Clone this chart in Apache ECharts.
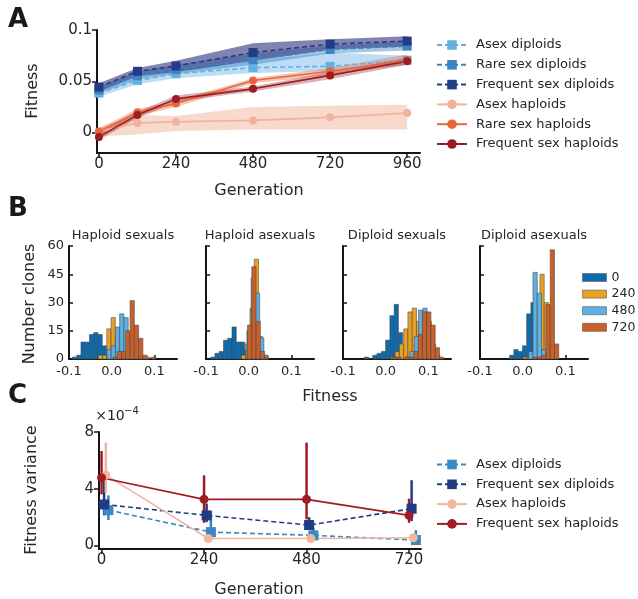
<!DOCTYPE html>
<html>
<head>
<meta charset="utf-8">
<script src="https://cdn.jsdelivr.net/npm/echarts@6/dist/echarts.min.js"></script>
<style>
  body { margin: 0; background: #fff; }
  .layer { position: absolute; left: 0; top: 0; width: 638px; height: 599px; }
</style>
</head>
<body>
<div id="chartA" class="layer"></div>
<div id="chartB" class="layer"></div>
<div id="chartC" class="layer"></div>
<script>
// ---------- panel A : mean fitness over time ----------
const gensA = [0, 120, 240, 480, 720, 960];
const genTicksA = [0, 240, 480, 720, 960];
const fitTicksA = [0, 0.05, 0.1];

const asexDip = [0.0384, 0.0508, 0.0574, 0.0633, 0.0646, 0.0705];
const asexDipLo = [0.035, 0.047, 0.053, 0.058, 0.060, 0.066];
const asexDipHi = [0.042, 0.054, 0.062, 0.070, 0.078, 0.075];
const rareDip = [0.0416, 0.0554, 0.0613, 0.0711, 0.081, 0.0843];
const rareDipLo = [0.038, 0.052, 0.057, 0.066, 0.077, 0.080];
const rareDipHi = [0.045, 0.059, 0.066, 0.077, 0.085, 0.089];
const freqDip = [0.0443, 0.0597, 0.0649, 0.078, 0.0862, 0.0892];
const freqDipLo = [0.040, 0.055, 0.059, 0.070, 0.081, 0.084];
const freqDipHi = [0.048, 0.063, 0.070, 0.087, 0.091, 0.094];
const asexHap = [0.001, 0.0092, 0.0105, 0.0118, 0.0148, 0.019];
const asexHapLo = [-0.004, -0.002, 0.0015, 0.003, 0.003, 0.003];
const asexHapHi = [0.005, 0.017, 0.016, 0.025, 0.026, 0.027];
const rareHap = [0.001, 0.0197, 0.0282, 0.0508, 0.0597, 0.0705];
const rareHapLo = [-0.003, 0.016, 0.025, 0.048, 0.056, 0.066];
const rareHapHi = [0.004, 0.023, 0.031, 0.053, 0.063, 0.076];
const freqHap = [-0.0043, 0.017, 0.0328, 0.0426, 0.0557, 0.0695];
const freqHapLo = [-0.007, 0.014, 0.030, 0.040, 0.052, 0.066];
const freqHapHi = [-0.001, 0.020, 0.036, 0.045, 0.059, 0.073];

// ---------- panel B : histograms (bin start per generation, counts per bin) ----------
const histTitles = ['Haploid sexuals', 'Haploid asexuals', 'Diploid sexuals', 'Diploid asexuals'];
const histGens = ['0', '240', '480', '720'];
const binWidth = 0.01;
const hapSexStart = [-0.092, -0.0315, -0.0113, 0.0031];
const hapSexCounts = [
  [1, 2, 9, 9, 13, 14, 13, 7, 3, 1],
  [2, 2, 16, 22, 12, 5, 2],
  [5, 7, 17, 24, 22, 10, 4, 2, 1, 1],
  [1, 4, 4, 15, 31, 18, 11, 2, 0, 1]
];
const hapAsexStart = [-0.0891, -0.017, -0.0043, -0.0027];
const hapAsexCounts = [
  [1, 3, 4, 10, 11, 17, 9, 9, 5, 1],
  [2, 8, 27, 53, 12, 2],
  [15, 43, 35, 11, 2],
  [18, 49, 20, 4, 1]
];
const dipSexStart = [-0.0502, 0.0121, 0.0471, 0.016];
const dipSexCounts = [
  [1, 0, 2, 3, 4, 10, 23, 29, 14, 6, 2],
  [1, 4, 8, 16, 25, 27, 20, 10, 4, 1],
  [1, 4, 12, 26, 27, 20, 8, 2],
  [1, 1, 0, 1, 1, 4, 13, 25, 25, 18, 6, 1]
];
const dipAsexStart = [-0.0307, 0.0004, 0.0141, 0.0245];
const dipAsexCounts = [
  [2, 5, 4, 7, 24, 30, 15, 3],
  [1, 1, 2, 17, 45, 30, 8],
  [4, 46, 35, 5],
  [1, 1, 2, 29, 58, 8]
];

// ---------- panel C : fitness variance (x1e-4) ----------
const gensC = [0, 240, 480, 720];
const varTicksC = [0, 4, 8];
const asexDipVar = [2.49, 0.94, 0.71, 0.38];
const asexDipVarLo = [1.79, 0.54, 0.38, 0.07];
const asexDipVarHi = [3.53, 2.42, 1.25, 1.08];
const freqDipVar = [2.89, 2.12, 1.44, 2.59];
const freqDipVarLo = [2.12, 1.65, 1.13, 1.72];
const freqDipVarHi = [4.54, 2.96, 2.0, 4.6];
const asexHapVar = [4.96, 0.49, 0.49, 0.54];
const asexHapVarLo = [3.72, 0.4, 0.4, 0.45];
const asexHapVarHi = [7.25, 0.6, 0.6, 0.65];
const freqHapVar = [4.78, 3.25, 3.25, 2.12];
const freqHapVarLo = [3.6, 1.6, 1.84, 1.6];
const freqHapVarHi = [6.66, 4.94, 7.25, 3.3];

const font = 'DejaVu Sans';
const ink = '#262626';
const axisColor = '#151515';

function axis(extra) {
  const base = {
    type: 'value',
    axisLine: { onZero: false, lineStyle: { color: axisColor, width: 2 } },
    axisTick: { length: 5, lineStyle: { color: axisColor, width: 1.5 } },
    axisLabel: { color: ink, fontFamily: font, fontSize: 15 },
    splitLine: { show: false }
  };
  for (const k in extra) {
    if (typeof extra[k] === 'object' && base[k]) base[k] = Object.assign({}, base[k], extra[k]);
    else base[k] = extra[k];
  }
  return base;
}

function label(text, x, y, size, opts) {
  return Object.assign({
    type: 'text', x: x, y: y,
    style: { text: text, fill: ink, font: size + 'px "' + font + '"', align: 'center', verticalAlign: 'middle' }
  }, opts || {});
}
function letter(text, y) {
  return {
    type: 'text', x: 8, y: y,
    style: { text: text, fill: '#1a1a1a', font: 'bold 26px "' + font + '"', align: 'left', verticalAlign: 'middle' }
  };
}

// ======================= chart A =======================
const groupsA = [
  { name: 'Asex diploids', mean: asexDip, lo: asexDipLo, hi: asexDipHi, color: '#63b1e3', band: 'rgba(110,180,232,0.45)', dashed: true },
  { name: 'Rare sex diploids', mean: rareDip, lo: rareDipLo, hi: rareDipHi, color: '#3a85bf', band: 'rgba(60,128,190,0.45)', dashed: true },
  { name: 'Frequent sex diploids', mean: freqDip, lo: freqDipLo, hi: freqDipHi, color: '#223c86', band: 'rgba(45,50,125,0.6)', dashed: true },
  { name: 'Asex haploids', mean: asexHap, lo: asexHapLo, hi: asexHapHi, color: '#efb39b', band: 'rgba(236,160,130,0.4)', dashed: false },
  { name: 'Rare sex haploids', mean: rareHap, lo: rareHapLo, hi: rareHapHi, color: '#e8663a', band: 'rgba(232,110,60,0.4)', dashed: false },
  { name: 'Frequent sex haploids', mean: freqHap, lo: freqHapLo, hi: freqHapHi, color: '#9d1c22', band: 'rgba(150,30,34,0.35)', dashed: false }
];

function bandRender(params, api) {
  if (params.dataIndexInside !== 0) return null;
  const n = params.dataInsideLength;
  const top = [], bot = [];
  for (let i = 0; i < n; i++) {
    top.push(api.coord([api.value(0, i), api.value(2, i)]));
    bot.unshift(api.coord([api.value(0, i), api.value(1, i)]));
  }
  return { type: 'polygon', shape: { points: top.concat(bot) }, style: { fill: api.visual('color') } };
}

const seriesA = [];
groupsA.forEach(g => {
  seriesA.push({
    type: 'custom', silent: true, renderItem: bandRender,
    itemStyle: { color: g.band },
    data: gensA.map((x, i) => [x, g.lo[i], g.hi[i]])
  });
  seriesA.push({
    type: 'line', name: g.name, color: g.color,
    symbol: g.dashed ? 'rect' : 'circle', symbolSize: g.dashed ? 9 : 8,
    lineStyle: { width: 1.6, type: g.dashed ? [5, 3] : 'solid' },
    itemStyle: { color: g.color },
    data: gensA.map((x, i) => [x, g.mean[i]])
  });
});

const chartA = echarts.init(document.getElementById('chartA'));
chartA.setOption({
  animation: false,
  backgroundColor: 'transparent',
  grid: { left: 97, top: 30, width: 323, height: 123 },
  xAxis: axis({
    min: -6, max: 1000,
    axisTick: { customValues: genTicksA },
    axisLabel: { customValues: genTicksA, margin: 4 }
  }),
  yAxis: axis({
    min: -0.02, max: 0.1,
    axisTick: { customValues: fitTicksA },
    axisLabel: { customValues: fitTicksA, margin: 5, formatter: v => (v === 0 ? '0' : String(v)) }
  }),
  legend: {
    data: groupsA.map(g => g.name),
    orient: 'vertical', left: 431, top: 33,
    itemWidth: 30, itemHeight: 12, itemGap: 5.8,
    textStyle: { fontFamily: font, fontSize: 13, color: ink, lineHeight: 14, padding: [0, 0, 0, 4] }
  },
  graphic: [
    letter('A', 20),
    label('Fitness', 33, 91, 16, { rotation: Math.PI / 2 }),
    label('Generation', 259, 191, 16)
  ],
  series: seriesA
});

// ======================= chart B =======================
const histColors = ['#0b6bae', '#e8a125', '#5eb0e5', '#c9602a'];
const histStarts = [hapSexStart, hapAsexStart, dipSexStart, dipAsexStart];
const histCounts = [hapSexCounts, hapAsexCounts, dipSexCounts, dipAsexCounts];
const histLefts = [69, 206, 343, 480];
const histTicks = [-0.1, 0, 0.1];

function barRender(params, api) {
  const p0 = api.coord([api.value(0), 0]);
  const p1 = api.coord([api.value(1), api.value(2)]);
  return {
    type: 'rect',
    shape: { x: p0[0], y: p1[1], width: p1[0] - p0[0], height: p0[1] - p1[1] },
    style: { fill: api.visual('color'), stroke: 'rgba(70,70,70,0.55)', lineWidth: 1 }
  };
}

const gridsB = [], xAxesB = [], yAxesB = [], seriesB = [], graphicB = [];
histLefts.forEach((left, h) => {
  gridsB.push({ left: left, top: 246, width: 108, height: 113 });
  xAxesB.push(axis({
    gridIndex: h, min: -0.1, max: 0.153,
    axisTick: { inside: true, length: 4, customValues: histTicks },
    axisLabel: { customValues: histTicks, fontSize: 13, margin: 6, formatter: v => v.toFixed(1) }
  }));
  yAxesB.push(axis({
    gridIndex: h, min: 0, max: 60, interval: 15,
    axisTick: { inside: true, length: 4 },
    axisLabel: { show: h === 0, fontSize: 13, margin: 5 }
  }));
  graphicB.push(label(histTitles[h], left + 54, 236, 13));
  histGens.forEach((gen, g) => {
    const start = histStarts[h][g];
    seriesB.push({
      type: 'custom', name: gen, xAxisIndex: h, yAxisIndex: h,
      renderItem: barRender,
      itemStyle: { color: histColors[g] },
      data: histCounts[h][g]
        .map((c, i) => [start + i * binWidth, start + (i + 1) * binWidth, c])
        .filter(d => d[2] > 0)
    });
  });
});
graphicB.push(letter('B', 209));
graphicB.push(label('Number clones', 30, 304, 16, { rotation: Math.PI / 2 }));
graphicB.push(label('Fitness', 330, 397, 16));

const chartB = echarts.init(document.getElementById('chartB'));
chartB.setOption({
  animation: false,
  backgroundColor: 'transparent',
  grid: gridsB, xAxis: xAxesB, yAxis: yAxesB,
  legend: {
    data: histGens,
    orient: 'vertical', left: 582, top: 270.5, padding: 0,
    icon: 'rect', itemWidth: 24, itemHeight: 8, itemGap: 2.6,
    itemStyle: { borderColor: 'rgba(90,90,90,0.6)', borderWidth: 1 },
    textStyle: { fontFamily: font, fontSize: 12.5, color: ink, lineHeight: 14 }
  },
  graphic: graphicB,
  series: seriesB
});

// ======================= chart C =======================
const groupsC = [
  { name: 'Asex diploids', mean: asexDipVar, lo: asexDipVarLo, hi: asexDipVarHi, dodge: 16, color: '#3a87c1', dashed: true },
  { name: 'Frequent sex diploids', mean: freqDipVar, lo: freqDipVarLo, hi: freqDipVarHi, dodge: 6, color: '#213c85', dashed: true },
  { name: 'Asex haploids', mean: asexHapVar, lo: asexHapVarLo, hi: asexHapVarHi, dodge: 10, color: '#f0b7a0', dashed: false },
  { name: 'Frequent sex haploids', mean: freqHapVar, lo: freqHapVarLo, hi: freqHapVarHi, dodge: 0, color: '#a01c22', dashed: false }
];

function errRender(params, api) {
  const a = api.coord([api.value(0), api.value(1)]);
  const b = api.coord([api.value(0), api.value(2)]);
  return { type: 'line', shape: { x1: a[0], y1: a[1], x2: b[0], y2: b[1] }, style: { stroke: api.visual('color'), lineWidth: 2.5 } };
}

const seriesC = [];
groupsC.forEach(g => {
  seriesC.push({
    type: 'custom', silent: true, renderItem: errRender,
    itemStyle: { color: g.color },
    data: gensC.map((x, i) => [x + g.dodge, g.lo[i], g.hi[i]])
  });
  seriesC.push({
    type: 'line', name: g.name, color: g.color,
    symbol: g.dashed ? 'rect' : 'circle', symbolSize: g.dashed ? 10 : 9,
    lineStyle: { width: 1.6, type: g.dashed ? [5, 3] : 'solid' },
    itemStyle: { color: g.color },
    data: gensC.map((x, i) => [x + g.dodge, g.mean[i]])
  });
});

const chartC = echarts.init(document.getElementById('chartC'));
chartC.setOption({
  animation: false,
  backgroundColor: 'transparent',
  grid: { left: 99, top: 432, width: 322, height: 117 },
  xAxis: axis({
    min: -6, max: 748,
    axisTick: { customValues: gensC },
    axisLabel: { customValues: gensC, margin: 4 }
  }),
  yAxis: axis({
    min: -0.25, max: 8,
    axisTick: { customValues: varTicksC },
    axisLabel: { customValues: varTicksC, margin: 5 }
  }),
  legend: {
    data: groupsC.map(g => g.name),
    orient: 'vertical', left: 431, top: 452.5,
    itemWidth: 30, itemHeight: 12, itemGap: 5.8,
    textStyle: { fontFamily: font, fontSize: 13, color: ink, lineHeight: 14, padding: [0, 0, 0, 4] }
  },
  graphic: [
    letter('C', 396),
    label('×10', 110, 416, 14),
    { type: 'text', x: 124, y: 411, style: { text: '−4', fill: ink, font: '10px "' + font + '"', align: 'left', verticalAlign: 'middle' } },
    label('Fitness variance', 32, 490, 16, { rotation: Math.PI / 2 }),
    label('Generation', 259, 590, 16)
  ],
  series: seriesC
});
</script>
</body>
</html>
